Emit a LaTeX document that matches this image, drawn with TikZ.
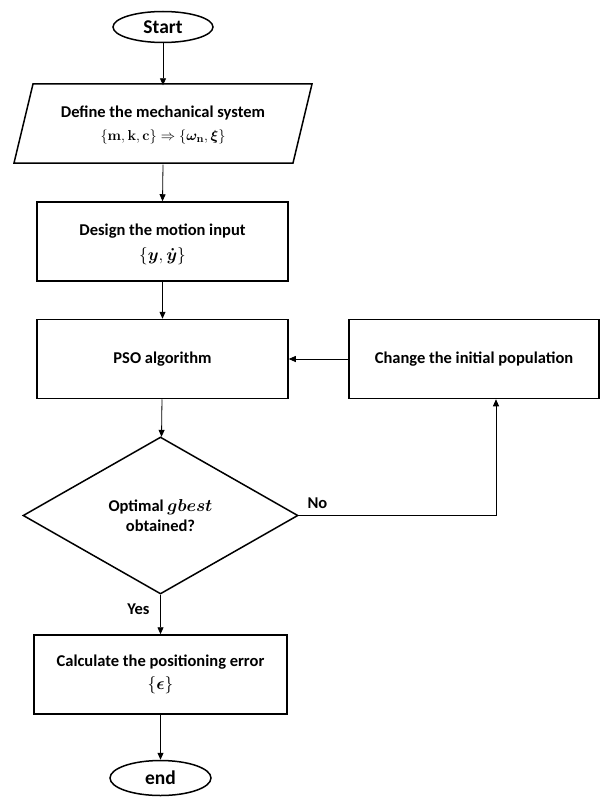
\documentclass[tikz,border=0pt]{standalone}
\usepackage{amsmath,amssymb,bm}
\usepackage[no-math]{fontspec}
\setmainfont{Carlito}
\usetikzlibrary{shapes.geometric,arrows.meta}
\begin{document}
\begin{tikzpicture}[x=1pt,y=-1pt,
  every node/.style={font=\fontsize{16.5}{21}\selectfont\bfseries, align=center},
  box/.style={draw, line width=1.5pt, minimum width=251pt, minimum height=79pt, inner sep=0pt},
  term/.style={draw, ellipse, line width=1.5pt, minimum width=100pt, minimum height=31pt, inner sep=0pt},
  arr/.style={line width=0.8pt, -{Triangle[length=7pt,width=6pt]}},
  lbl/.style={font=\fontsize{16.5}{20}\selectfont\bfseries}
]
\useasboundingbox (0,0) rectangle (608,797);
\node[term] (start) at (163,27) {\fontsize{19.5}{22}\selectfont Start};
% parallelogram (outline drawn below, node holds the text)
\node[minimum width=260pt, minimum height=79pt, inner sep=0pt] (def) at (163,125)
  {Define the mechanical system\\[2pt]
   {\fontsize{15}{18}\selectfont$\{\mathbf{m},\mathbf{k},\mathbf{c}\}\Rightarrow\{\bm{\omega}_{\mathbf{n}},\bm{\xi}\}$}};
\draw[line width=1.5pt] (33,84) -- (312,84) -- (293,163) -- (14,163) -- cycle;
\node[box] (des) at (162.5,241.5) {};
\node (destext) at (162.5,244) {Design the motion input\\[4pt] $\{\bm{y},\bm{\dot y}\}$};
\node[box] (pso) at (162.5,359) {PSO algorithm};
\node[box, minimum width=250pt] (chg) at (474,359) {Change the initial population};
\node[draw, diamond, line width=1.5pt, minimum width=275pt, minimum height=157pt, inner sep=0pt, aspect=1.75] (dia) at (160.5,515.5)
  {Optimal $\bm{gbest}$\\[-1pt] obtained?};
\node[box, minimum width=253pt] (calc) at (160.5,674.5) {Calculate the positioning error\\[2pt] $\{\bm{\epsilon}\}$};
\node[term, minimum width=101pt, minimum height=35pt] (end) at (160.5,778) {\fontsize{19.5}{22}\selectfont end};

\draw[arr] (start) -- (def.north);
\draw[arr] (def.south) -- (des.north);
\draw[arr] (des) -- (pso);
\draw[arr] (pso) -- (dia);
\draw[arr] (chg.west) -- (pso.east);
\draw[arr] (dia.east) -| ([xshift=22pt]chg.south);
\draw[arr] (dia.south) -- (calc.north);
\draw[arr] (calc) -- (end);
\node[lbl, anchor=west] (no) at (304,503) {No};
\node[lbl, anchor=east] (yes) at (153,609) {Yes};
\end{tikzpicture}
\end{document}
